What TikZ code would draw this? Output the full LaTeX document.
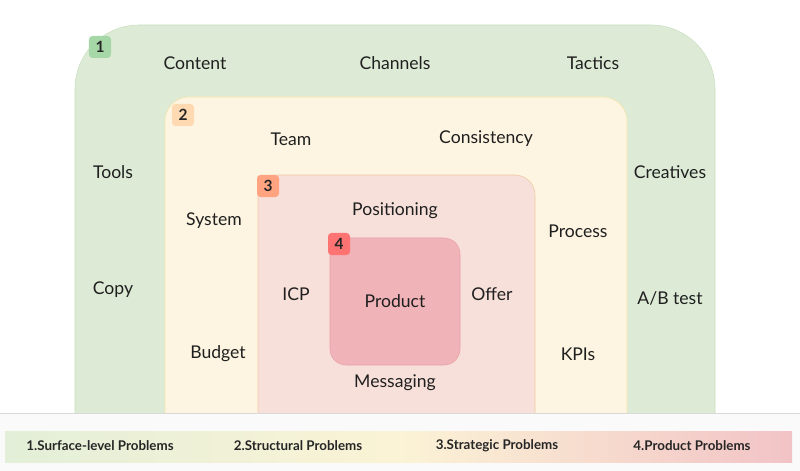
\documentclass[tikz,border=0pt]{standalone}
\usepackage{fontspec}
\setmainfont{Lato}
\usetikzlibrary{positioning}
\definecolor{surfacegreen}{HTML}{DDEBD6}
\definecolor{surfaceedge}{HTML}{C9DFC0}
\definecolor{structyellow}{HTML}{FDF5E1}
\definecolor{structedge}{HTML}{F6E4A8}
\definecolor{stratpink}{HTML}{F8E0DA}
\definecolor{stratedge}{HTML}{EFC9A0}
\definecolor{prodred}{HTML}{F0B4B8}
\definecolor{prodedge}{HTML}{E8A0A6}
\definecolor{legendgreen}{HTML}{E3EFD8}
\definecolor{legendyellow}{HTML}{FBF3D6}
\definecolor{legendred}{HTML}{F2C3C6}
\tikzset{
  word/.style={font=\fontsize{12.5}{14}\selectfont, text=black!88},
  badge/.style={rounded corners=2.5pt, minimum size=0.55cm, inner sep=0pt,
    font=\bfseries\fontsize{11}{12}\selectfont, text=black!85},
  legendword/.style={font=\bfseries\fontsize{9.5}{11}\selectfont, text=black!85}
}
\begin{document}
\begin{tikzpicture}[x=0.025cm, y=-0.025cm]
\useasboundingbox (0,0) rectangle (800,471);
% layers
\begin{scope}
\clip (0,0) rectangle (800,413);
\draw[surfaceedge, fill=surfacegreen, rounded corners=1.6cm] (75,25) rectangle (715,480);
\draw[structedge, fill=structyellow, rounded corners=0.6cm] (165,97) rectangle (627,480);
\draw[stratedge, fill=stratpink, rounded corners=0.5cm] (258,175) rectangle (535,480);
\end{scope}
\draw[prodedge, fill=prodred, rounded corners=0.4cm] (330,238) rectangle (460,365);
\draw[black!15] (0,413) -- (800,413);
\fill[black!2] (0,414) rectangle (800,471);
% badges
\node[badge, fill=green!55!black!35] (b1) at (100,47) {1};
\node[badge, fill=orange!30] (b2) at (183,115) {2};
\node[badge, fill=red!45!orange!50] (b3) at (268,186) {3};
\node[badge, fill=red!55] (b4) at (339,244) {4};
% surface level
\node[word] (content) at (195,63) {Content};
\node[word] (channels) at (395,63) {Channels};
\node[word] (tactics) at (593,63) {Tactics};
\node[word] (tools) at (113,172) {Tools};
\node[word] (creatives) at (670,172) {Creatives};
\node[word] (copy) at (113,290) {Copy};
\node[word] (abtest) at (670,298) {A/B test};
% structural
\node[word] (team) at (291,139) {Team};
\node[word] (consistency) at (486,139) {Consistency};
\node[word] (system) at (214,221) {System};
\node[word] (process) at (578,231) {Process};
\node[word] (budget) at (218,354) {Budget};
\node[word] (kpis) at (578,354) {KPIs};
% strategic
\node[word] (positioning) at (395,211) {Positioning};
\node[word] (icp) at (296,294) {ICP};
\node[word] (offer) at (492,294) {Offer};
\node[word] (messaging) at (395,383) {Messaging};
% product
\node[word] (product) at (395,301) {Product};
% legend
\shade[left color=legendgreen, right color=legendyellow] (5,431) rectangle (400,462);
\shade[left color=legendyellow, right color=legendred] (400,431) rectangle (792,462);
\node[legendword] (l1) at (100,446) {1.Surface-level Problems};
\node[legendword] (l2) at (298,446) {2.Structural Problems};
\node[legendword] (l3) at (497,446) {3.Strategic Problems};
\node[legendword] (l4) at (692,446) {4.Product Problems};
\end{tikzpicture}
\end{document}
